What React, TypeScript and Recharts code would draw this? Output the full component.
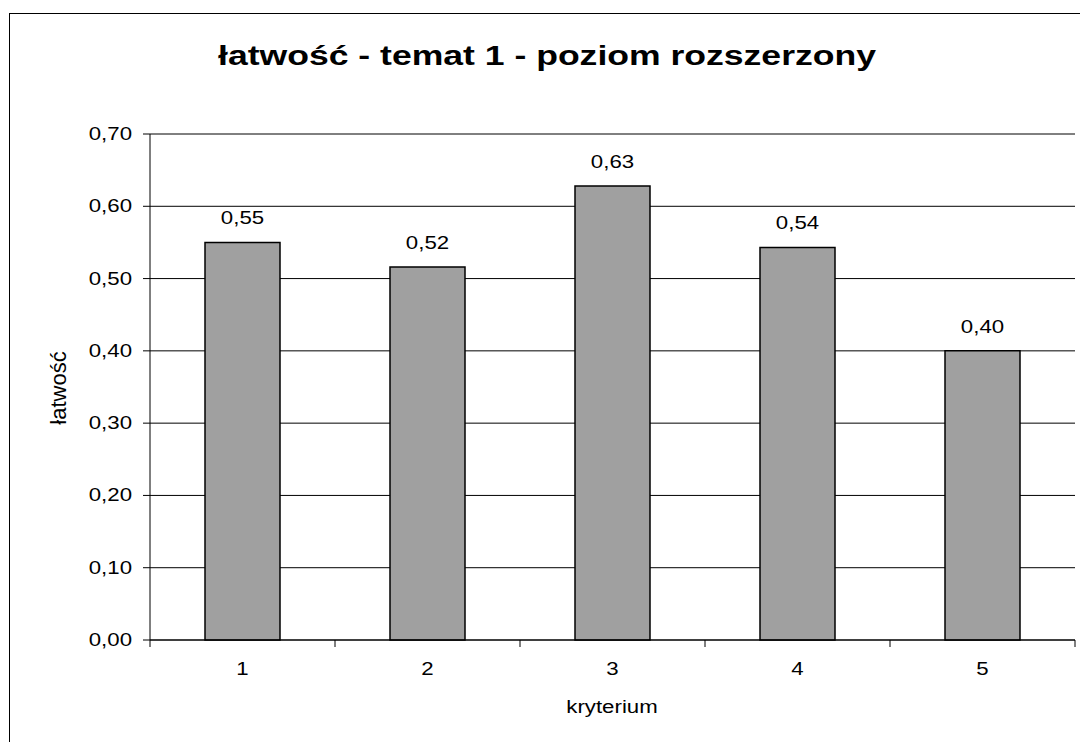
import React from 'react';
import {
  BarChart,
  Bar,
  XAxis,
  YAxis,
  CartesianGrid,
  LabelList,
} from 'recharts';

const kryteria = ['1', '2', '3', '4', '5'];
const latwosc = [0.55, 0.516, 0.628, 0.543, 0.4];
const yTicks = [0, 0.1, 0.2, 0.3, 0.4, 0.5, 0.6, 0.7];

const data = kryteria.map((k, i) => ({ kryterium: k, latwosc: latwosc[i] }));

const W = 1080;
const H = 742;
const M = { top: 134, right: 5, bottom: 42, left: 0 };
const Y_W = 150;
const BAND = (W - M.left - M.right - Y_W) / kryteria.length;
const FONT = '"Liberation Sans", Arial, sans-serif';
// the original picture is stretched sideways, so text is widened a bit
const SX = 1.27;
const FS = 17.5;

const fmt = (v: number) => v.toFixed(2).replace('.', ',');

const Wide = ({ x, y, anchor = 'middle', size = FS, children }: any) => (
  <text
    transform={`translate(${x},${y}) scale(${SX},1)`}
    textAnchor={anchor}
    fontSize={size}
    fill="#000"
    fontFamily={FONT}
  >
    {children}
  </text>
);

const XTick = (props: any) => {
  const { x, y, payload, index } = props;
  const left = x - BAND / 2;
  return (
    <g>
      <line x1={left} y1={y} x2={left} y2={y + 7} stroke="#000" />
      {index === kryteria.length - 1 && (
        <line x1={x + BAND / 2} y1={y} x2={x + BAND / 2} y2={y + 7} stroke="#000" />
      )}
      <Wide x={x} y={y + 35}>{payload.value}</Wide>
    </g>
  );
};

const YTick = (props: any) => {
  const { x, y, payload } = props;
  return (
    <Wide x={x - 11} y={y + 6} anchor="end">
      {fmt(payload.value)}
    </Wide>
  );
};

const ValueLabel = (props: any) => {
  const { x, y, width, value } = props;
  return (
    <Wide x={x + width / 2} y={y - 18}>
      {fmt(Number(value))}
    </Wide>
  );
};

export default function App() {
  return (
    <div
      style={{
        position: 'fixed',
        left: 0,
        top: 0,
        width: W,
        height: H,
        overflow: 'hidden',
        background: '#fff',
        fontFamily: FONT,
      }}
    >
      <div
        style={{
          position: 'absolute',
          left: 9,
          top: 13,
          width: 1200,
          height: 900,
          border: '1.5px solid #000',
        }}
      />
      <div style={{ position: 'absolute', left: 0, top: 0 }}>
        <BarChart width={W} height={H} data={data} margin={M}>
          <text
            transform={`translate(547,65) scale(${SX},1)`}
            textAnchor="middle"
            fontSize={28}
            fontWeight="bold"
            fill="#000"
            fontFamily={FONT}
          >
            łatwość - temat 1 - poziom rozszerzony
          </text>
          <CartesianGrid horizontal vertical={false} stroke="#000" strokeWidth={1} yAxisId="y" xAxisId="x" />
          <XAxis
            xAxisId="x"
            dataKey="kryterium"
            height={60}
            tickLine={false}
            tickSize={0}
            tickMargin={0}
            axisLine={{ stroke: '#000' }}
            tick={<XTick />}
            interval={0}
            label={{
              content: () => (
                <Wide x={612} y={713}>kryterium</Wide>
              ),
            }}
          />
          <XAxis xAxisId="top" orientation="top" height={0} tick={false} tickLine={false} axisLine={{ stroke: '#808080', strokeWidth: 2 }} />
          <YAxis
            yAxisId="y"
            width={Y_W}
            domain={[0, 0.7]}
            ticks={yTicks}
            tickSize={7}
            tickMargin={0}
            tick={<YTick />}
            tickLine={{ stroke: '#000' }}
            axisLine={{ stroke: '#000' }}
            label={{
              content: () => (
                <text
                  transform="translate(66,388) rotate(-90)"
                  textAnchor="middle"
                  fontSize={22}
                  fill="#000"
                  fontFamily={FONT}
                >
                  łatwość
                </text>
              ),
            }}
          />
          <YAxis yAxisId="right" orientation="right" width={0} tick={false} tickLine={false} axisLine={{ stroke: '#808080', strokeWidth: 2 }} />
          <Bar
            dataKey="latwosc"
            xAxisId="x"
            yAxisId="y"
            fill="#a0a0a0"
            stroke="#000"
            strokeWidth={1.5}
            barSize={75}
            isAnimationActive={false}
          >
            <LabelList dataKey="latwosc" content={<ValueLabel />} />
          </Bar>
        </BarChart>
      </div>
    </div>
  );
}
